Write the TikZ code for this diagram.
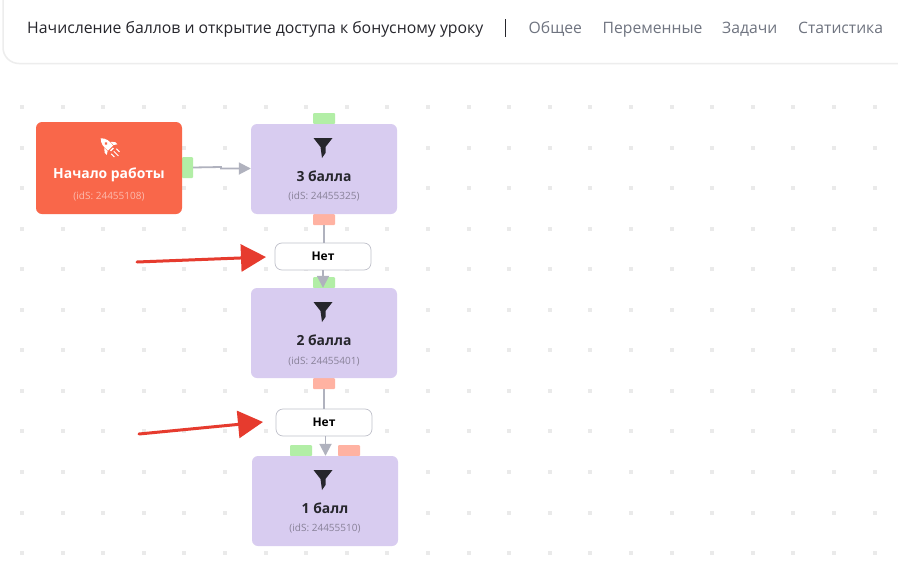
\documentclass[tikz,border=0pt]{standalone}
\usepackage{fontspec}
\setmainfont{Open Sans}
\usetikzlibrary{arrows.meta}
\definecolor{cardlilac}{HTML}{D8CCF0}
\definecolor{startred}{HTML}{F9674A}
\definecolor{portgreen}{HTML}{B2EEA6}
\definecolor{portred}{HTML}{FFB2A2}
\definecolor{wire}{HTML}{B0B2BE}
\definecolor{griddot}{HTML}{EAEAEA}
\definecolor{navgrey}{HTML}{6F7480}
\definecolor{markred}{HTML}{E63B2E}
\definecolor{inkdark}{HTML}{26262C}
\tikzset{
  x=1pt,y=-1pt,
  card/.style={fill=cardlilac,rounded corners=6pt,minimum width=146pt,minimum height=90pt,inner sep=0pt},
  startcard/.style={card,fill=startred,minimum height=92pt},
  gport/.style={fill=portgreen,rounded corners=1pt,minimum width=22pt,minimum height=11pt,inner sep=0pt},
  rport/.style={gport,fill=portred},
  labelbox/.style={draw=wire!80,fill=white,line width=.7pt,rounded corners=7pt,minimum width=96pt,minimum height=27pt,inner sep=0pt,font=\fontsize{12}{12}\selectfont\bfseries},
  wireline/.style={draw=wire,line width=1.8pt},
  wirearrow/.style={wireline,-{Triangle[length=12pt,width=12pt]}},
  markarrow/.style={draw=markred,line width=3pt,line cap=round,-{Triangle[length=25pt,width=27pt]}},
  title/.style={font=\fontsize{13.9}{14}\selectfont\bfseries,text=inkdark,inner sep=0pt},
  titlew/.style={title,text=white},
  ids/.style={font=\fontsize{10}{10}\selectfont,text=inkdark!45!cardlilac,inner sep=0pt},
  navitem/.style={font=\fontsize{15.7}{16}\selectfont,text=navgrey,inner sep=0pt,anchor=base west},
}
\begin{document}
\begin{tikzpicture}
\useasboundingbox (0,0) rectangle (898,573);
\fill[white] (0,0) rectangle (898,573);
% grid of dots
\foreach \i in {0,...,21}{\foreach \j in {0,...,11}{
  \fill[griddot] ({22+40.6*\i-2},{107+40.55*\j-2}) rectangle +(4,4);
}}
% header card
\draw[draw=black!7,fill=white,line width=1.5pt,rounded corners=16pt] (3,-30) -- (3,63.5) -- (930,63.5) -- (930,-30) -- cycle;
\node[font=\fontsize{15.8}{16}\selectfont,text=inkdark,inner sep=0pt,anchor=base west] (head) at (27,33) {Начисление баллов и открытие доступа к бонусному уроку};
\draw[inkdark,line width=.8pt] (505.5,19) -- (505.5,37);
\node[navitem] (nav1) at (528.5,33.5) {Общее};
\node[navitem] (nav2) at (602.5,33.5) {Переменные};
\node[navitem] (nav3) at (722,33.5) {Задачи};
\node[navitem] (nav4) at (798,33.5) {Статистика};
% ports
\node[gport,minimum width=11pt,minimum height=21pt] (p0) at (187.5,167.5) {};
\node[gport] (p1t) at (324,118.5) {};
\node[rport] (p1b) at (324,219.5) {};
\node[gport] (p2t) at (324,282.5) {};
\node[rport] (p2b) at (324,383.5) {};
\node[gport] (p3a) at (301,450.5) {};
\node[rport] (p3b) at (349,450.5) {};
% cards
\node[startcard] (start) at (109,168) {};
\node[card] (c1) at (324,169) {};
\node[card] (c2) at (324,333) {};
\node[card] (c3) at (325,501) {};
% rocket
\begin{scope}[shift={(108.5,146)},rotate=45]
  \fill[white] (0,-11) .. controls (4,-7) and (4.2,-3) .. (3.6,3) -- (-3.6,3) .. controls (-4.2,-3) and (-4,-7) .. (0,-11) -- cycle;
  \fill[startred] (0,-3.5) circle (1.7);
  \fill[white] (-4.4,-1.5) -- (-7.5,2) -- (-7.5,5) -- (-4.2,3) -- cycle;
  \fill[white] (4.4,-1.5) -- (7.5,2) -- (7.5,5) -- (4.2,3) -- cycle;
  \fill[white] (-2,4.2) rectangle (2,5.6);
  \draw[white,line width=1pt] (-3.6,7.5) -- (-3.6,12) (0,7.5) -- (0,14) (3.6,7.5) -- (3.6,12);
\end{scope}
% funnels
\foreach \fx/\fy in {323/148,323/312,323/480}{
  \fill[inkdark] ({\fx-9.5},{\fy-10}) -- ({\fx+9.5},{\fy-10}) -- ({\fx+2.5},{\fy-1}) -- ({\fx+2.5},{\fy+5}) -- ({\fx-1},{\fy+10}) -- ({\fx-2.5},{\fy-1}) -- cycle;
}
% card text
\node[titlew] (t0) at (109,175) {Начало работы};
\node[ids,text=white!55!startred] (i0) at (109,196.5) {(idS: 24455108)};
\node[title] (t1) at (324,176.5) {3 балла};
\node[ids] (i1) at (324,196.5) {(idS: 24455325)};
\node[title] (t2) at (324,340.5) {2 балла};
\node[ids] (i2) at (324,361) {(idS: 24455401)};
\node[title] (t3) at (325,508.5) {1 балл};
\node[ids] (i3) at (325,528.5) {(idS: 24455510)};
% label nodes
\node[labelbox] (n1) at (323,256.5) {Нет};
\node[labelbox] (n2) at (324,422.5) {Нет};
% connectors
\draw[wirearrow] (p0.east) -- (221,167) -- (221,168.5) -- (c1.west |- 0,168.5);
\draw[wireline] (p1b.south) -- (n1.north -| p1b.south);
\draw[wirearrow] (n1.south) -- (c2.north -| n1.south);
\draw[wireline] (p2b.south) -- (n2.north -| p2b.south);
\draw[wirearrow] (325.5,436) -- (c3.north -| 325.5,0);
% red arrows
\coordinate (ra1) at (137,262);
\coordinate (rb1) at (266,257);
\coordinate (ra2) at (139,434);
\coordinate (rb2) at (263,422);
\draw[markarrow] (ra1) -- (rb1);
\draw[markarrow] (ra2) -- (rb2);
\end{tikzpicture}
\end{document}
